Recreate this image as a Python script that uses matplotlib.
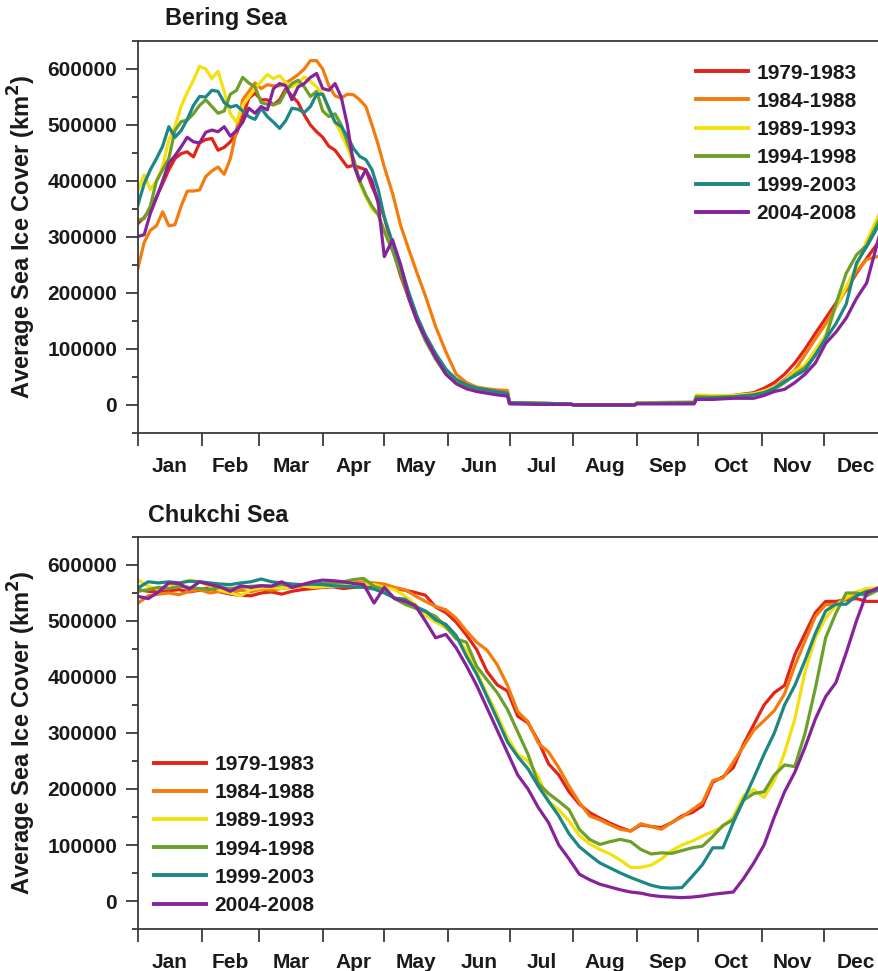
import matplotlib
matplotlib.use("Agg")
import matplotlib.pyplot as plt
from matplotlib.ticker import FixedLocator, FuncFormatter
import numpy as np

# ---------------- data (values in thousands of km^2) ----------------
periods = ["1979-1983", "1984-1988", "1989-1993", "1994-1998", "1999-2003", "2004-2008"]
colors = ["#e2231a", "#f47c0d", "#f4e00c", "#6d9f2b", "#1e8786", "#86239b"]
months = ["Jan", "Feb", "Mar", "Apr", "May", "Jun", "Jul", "Aug", "Sep", "Oct", "Nov", "Dec"]
month_start = [0, 31, 59, 90, 120, 151, 181, 212, 243, 273, 304, 334, 365]

bering_days = [0, 3, 6, 9, 12, 15, 18, 21, 24, 27, 30, 33, 36, 39, 42, 45, 48, 51, 54, 57,
               60, 63, 66, 69, 72, 75, 78, 81, 84, 87, 90, 93, 96, 99, 102, 105, 108, 111,
               114, 117, 120, 124, 128, 132, 136, 140, 145, 150, 155, 160, 165, 170, 175,
               180, 181, 195, 211, 212, 242, 243, 271, 272, 280, 290, 300, 305, 310, 315,
               320, 325, 330, 335, 340, 345, 350, 355, 361]

bering_1979_1983 = [324, 335, 350, 372, 395, 420, 440, 449, 452, 443, 468, 474, 476, 455, 460, 470, 485, 515, 548, 557,
                    545, 545, 536, 545, 565, 552, 540, 518, 500, 488, 478, 462, 455, 440, 425, 428, 424, 420,
                    390, 365, 335, 280, 230, 190, 150, 118, 85, 58, 42, 34, 29, 26, 24,
                    22, 4, 3, 2, 0, 0, 4, 5, 15, 16, 17, 22, 30, 40, 55,
                    75, 100, 128, 155, 182, 205, 235, 262, 292]
bering_1984_1988 = [245, 290, 312, 320, 345, 320, 322, 355, 382, 382, 384, 408, 418, 425, 412, 440, 491, 545, 560, 575,
                    565, 572, 570, 570, 575, 582, 590, 600, 615, 615, 600, 570, 552, 548, 555, 554, 545, 533,
                    500, 465, 425, 378, 320, 277, 235, 195, 140, 95, 55, 40, 32, 29, 27,
                    26, 4, 3, 2, 0, 0, 4, 4, 14, 15, 16, 20, 25, 33, 45,
                    62, 90, 118, 145, 175, 207, 238, 260, 266]
bering_1989_1993 = [384, 411, 385, 400, 426, 473, 497, 533, 558, 580, 605, 600, 583, 596, 560, 520, 505, 535, 550, 565,
                    578, 590, 583, 588, 576, 568, 575, 586, 578, 568, 555, 525, 505, 485, 460, 430, 396, 372,
                    350, 340, 310, 280, 240, 193, 152, 122, 88, 60, 42, 33, 28, 25, 23,
                    20, 4, 3, 2, 0, 0, 4, 5, 18, 17, 17, 20, 25, 32, 42,
                    60, 72, 98, 125, 176, 211, 247, 293, 340]
bering_1994_1998 = [330, 333, 355, 400, 420, 440, 490, 506, 509, 520, 535, 545, 533, 521, 525, 555, 562, 585, 575, 568,
                    540, 537, 536, 540, 560, 574, 580, 568, 551, 560, 525, 515, 520, 500, 470, 440, 400, 375,
                    355, 340, 310, 275, 235, 190, 150, 115, 82, 55, 40, 32, 27, 24, 22,
                    20, 4, 3, 2, 0, 0, 3, 4, 15, 14, 15, 18, 22, 28, 40,
                    55, 67, 88, 120, 180, 235, 268, 285, 330]
bering_1999_2003 = [358, 395, 420, 440, 462, 497, 478, 490, 510, 535, 551, 550, 562, 560, 540, 532, 535, 525, 515, 510,
                    530, 515, 505, 494, 508, 530, 528, 522, 533, 555, 555, 530, 505, 497, 480, 458, 444, 438,
                    420, 385, 335, 290, 248, 200, 158, 125, 92, 64, 46, 36, 30, 27, 24,
                    21, 4, 3, 2, 0, 0, 3, 4, 12, 13, 14, 18, 22, 30, 42,
                    52, 62, 90, 118, 145, 180, 253, 283, 322]
bering_2004_2008 = [301, 304, 342, 370, 400, 432, 445, 461, 478, 470, 468, 487, 491, 488, 497, 480, 490, 505, 530, 521,
                    533, 527, 565, 574, 570, 545, 568, 574, 585, 592, 565, 562, 574, 550, 500, 430, 400, 420,
                    400, 360, 265, 295, 250, 190, 150, 120, 85, 55, 38, 29, 24, 21, 18,
                    16, 2, 1, 1, 0, 0, 2, 2, 10, 10, 12, 12, 17, 24, 28,
                    40, 55, 75, 110, 130, 155, 190, 218, 300]

chukchi_days = [0, 5, 10, 15, 20, 25, 30, 35, 40, 45, 50, 55, 60, 65, 70, 75, 80, 85, 90, 95,
                100, 105, 110, 115, 120, 125, 130, 135, 140, 145, 150, 155, 160, 165, 170, 175,
                180, 185, 190, 195, 200, 205, 210, 215, 220, 225, 230, 235, 240, 245, 250, 255,
                260, 265, 270, 275, 280, 285, 290, 295, 300, 305, 310, 315, 320, 325, 330, 335,
                340, 345, 350, 355, 361]

chukchi_1979_1983 = [556, 553, 552, 554, 556, 552, 555, 560, 552, 548, 546, 545, 550, 552, 548, 553, 556, 558, 560, 561,
                     558, 560, 562, 560, 563, 558, 555, 551, 546, 525, 515, 498, 475, 449, 410, 386,
                     375, 330, 318, 286, 245, 225, 195, 173, 158, 148, 139, 131, 125, 136, 133, 131,
                     140, 152, 158, 170, 212, 222, 238, 280, 315, 350, 372, 385, 440, 478, 515, 535,
                     535, 538, 540, 535, 535]
chukchi_1984_1988 = [532, 545, 548, 550, 547, 553, 556, 550, 553, 550, 555, 552, 557, 555, 558, 560, 562, 565, 565, 566,
                     567, 568, 570, 568, 566, 560, 556, 545, 535, 526, 520, 505, 482, 462, 448, 422,
                     385, 338, 320, 282, 266, 238, 205, 176, 152, 145, 136, 128, 125, 138, 133, 128,
                     140, 150, 163, 176, 215, 220, 248, 276, 305, 322, 340, 370, 420, 465, 508, 529,
                     530, 540, 546, 553, 556]
chukchi_1989_1993 = [573, 562, 556, 565, 567, 573, 570, 562, 555, 550, 545, 556, 559, 560, 558, 562, 563, 560, 561, 562,
                     563, 565, 566, 565, 560, 556, 545, 530, 510, 498, 488, 472, 447, 410, 370, 333,
                     292, 262, 250, 222, 178, 163, 143, 117, 102, 92, 84, 73, 60, 60, 64, 75,
                     90, 100, 107, 116, 124, 133, 150, 188, 199, 185, 215, 265, 325, 410, 470, 505,
                     528, 542, 552, 558, 559]
chukchi_1994_1998 = [553, 556, 560, 558, 562, 560, 558, 556, 560, 558, 560, 562, 563, 562, 565, 563, 565, 566, 567, 568,
                     570, 574, 576, 562, 556, 540, 530, 523, 517, 508, 490, 468, 462, 419, 395, 372,
                     342, 302, 262, 210, 192, 178, 163, 128, 110, 101, 106, 110, 106, 92, 84, 86,
                     85, 90, 95, 98, 115, 135, 145, 180, 192, 195, 225, 243, 240, 300, 380, 470,
                     514, 550, 550, 545, 556]
chukchi_1999_2003 = [559, 570, 568, 570, 568, 571, 570, 568, 566, 565, 568, 570, 575, 570, 568, 566, 565, 566, 565, 563,
                     562, 561, 560, 557, 550, 541, 539, 526, 518, 502, 494, 474, 437, 405, 365, 325,
                     284, 258, 236, 205, 178, 152, 120, 97, 82, 68, 59, 50, 42, 35, 28, 24,
                     23, 24, 44, 65, 95, 95, 140, 180, 220, 262, 300, 350, 385, 430, 478, 518,
                     530, 530, 545, 553, 556]
chukchi_2004_2008 = [544, 540, 552, 568, 567, 557, 570, 565, 561, 553, 563, 560, 563, 562, 570, 560, 565, 570, 573, 572,
                     570, 567, 565, 532, 560, 540, 535, 528, 500, 470, 476, 452, 420, 385, 345, 305,
                     265, 225, 200, 167, 140, 100, 75, 48, 38, 30, 25, 20, 16, 14, 10, 8,
                     7, 6, 7, 9, 12, 14, 16, 40, 68, 100, 150, 195, 230, 275, 325, 365,
                     390, 443, 500, 550, 560]

bering = [bering_1979_1983, bering_1984_1988, bering_1989_1993,
          bering_1994_1998, bering_1999_2003, bering_2004_2008]
chukchi = [chukchi_1979_1983, chukchi_1984_1988, chukchi_1989_1993,
           chukchi_1994_1998, chukchi_1999_2003, chukchi_2004_2008]

# ---------------- figure ----------------
FONT = "Liberation Sans"
FS = 15
plt.rcParams["font.family"] = [FONT, "DejaVu Sans"]
plt.rcParams["font.weight"] = "bold"

W, H = 879, 971
fig = plt.figure(figsize=(W / 100, H / 100), dpi=100)

def px_rect(left, top, right, bottom):
    return [left / W, 1 - bottom / H, (right - left) / W, (bottom - top) / H]

ax1 = fig.add_axes(px_rect(138, 41, 879, 433))
ax2 = fig.add_axes(px_rect(138, 537, 879, 929))

spine_col = "#3a3a3a"
text_col = "#1a1a1a"
mid_month = [(month_start[i] + month_start[i + 1]) / 2 for i in range(12)]

def style(ax, title, title_x, title_y):
    ax.set_xlim(0, 361)
    ax.set_ylim(-50000, 650000)
    ax.spines["right"].set_visible(False)
    for s in ["left", "top", "bottom"]:
        ax.spines[s].set_color(spine_col)
        ax.spines[s].set_linewidth(1.3)
    ax.xaxis.set_major_locator(FixedLocator(month_start[:-1]))
    ax.xaxis.set_minor_locator(FixedLocator(mid_month))
    ax.xaxis.set_major_formatter(FuncFormatter(lambda v, p: ""))
    ax.set_xticklabels(months, minor=True)
    ax.tick_params(axis="x", which="major", direction="out", length=9.5, width=1.3, color=spine_col)
    ax.tick_params(axis="x", which="minor", length=0, pad=17, labelsize=FS)
    ax.yaxis.set_major_locator(FixedLocator(np.arange(0, 600001, 100000)))
    ax.yaxis.set_minor_locator(FixedLocator(np.arange(-50000, 650001, 100000)))
    ax.yaxis.set_major_formatter(FuncFormatter(lambda v, p: f"{int(v)}"))
    ax.tick_params(axis="y", which="major", direction="out", length=9, width=1.3,
                   color=spine_col, labelsize=FS, pad=6)
    ax.tick_params(axis="y", which="minor", direction="out", length=4.5, width=1.3, color=spine_col)
    for lab in ax.get_xticklabels(minor=True) + ax.get_yticklabels():
        lab.set_fontweight("bold")
        lab.set_color(text_col)
    ax.set_ylabel("Average Sea Ice Cover (km$^\\mathbf{2}$)", fontsize=17, fontweight="bold",
                  color=text_col, labelpad=7)
    fig.text(title_x / W, 1 - title_y / H, title, fontsize=16.8, fontweight="bold",
             color=text_col, ha="left", va="center")

for ax, days, series in [(ax1, bering_days, bering), (ax2, chukchi_days, chukchi)]:
    for lab, col, vals in zip(periods, colors, series):
        ax.plot(days, np.array(vals) * 1000, color=col, lw=2.3, label=lab,
                solid_joinstyle="round")

style(ax1, "Bering Sea", 165, 19)
style(ax2, "Chukchi Sea", 148, 516)

leg_kw = dict(frameon=False, borderpad=0, borderaxespad=0, handlelength=2.5,
              handletextpad=0.4, labelspacing=0.44,
              prop={"family": FONT, "weight": "bold", "size": FS},
              bbox_transform=fig.transFigure, loc="upper left")
l1 = ax1.legend(bbox_to_anchor=(696 / W, 1 - 63.5 / H), **leg_kw)
l2 = ax2.legend(bbox_to_anchor=(154 / W, 1 - 755 / H), **leg_kw)
for l in (l1, l2):
    for line in l.get_lines():
        line.set_linewidth(2.8)
    for t in l.get_texts():
        t.set_color(text_col)

fig.savefig("out.png", dpi=100)
